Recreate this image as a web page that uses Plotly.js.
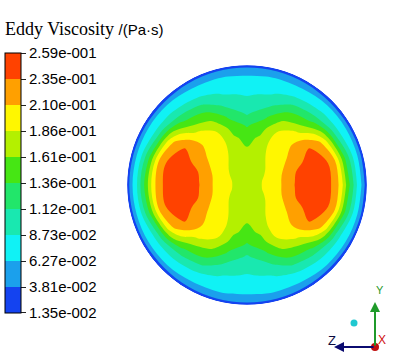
<!DOCTYPE html>
<html><head><meta charset="utf-8">
<script src="https://cdn.plot.ly/plotly-3.0.1.min.js"></script>
<style>html,body{margin:0;padding:0;background:#fff;}#chart{width:396px;height:354px;}</style>
</head><body><div id="chart"></div>
<script>
// radial stations (fraction of pipe radius) and angular stations (deg, CCW from +x)
const radii = [0, 0.1, 0.2, 0.3, 0.4, 0.5, 0.6, 0.7, 0.76, 0.8, 0.84, 0.88, 0.92, 0.95, 0.98, 1.0];
const angles = [0,15,30,45,60,75,90,105,120,135,150,165,180,195,210,225,240,255,270,285,300,315,330,345,360];

// eddy viscosity (Pa·s) read along rays, named by angle from the horizontal axis
const p0  = [0.1755,0.1827,0.1952,0.2124,0.2354,0.2462,0.2462,0.2354,0.2128,0.1854,0.1498,0.1203,0.0854,0.0675,0.0410,0.0160];
const p15 = [0.1755,0.1822,0.1935,0.2104,0.2322,0.2433,0.2450,0.2350,0.2133,0.1792,0.1421,0.1132,0.0818,0.0653,0.0398,0.0160];
const p30 = [0.1755,0.1809,0.1881,0.2018,0.2143,0.2256,0.2369,0.2160,0.1812,0.1471,0.1161,0.0903,0.0739,0.0626,0.0381,0.0160];
const p45 = [0.1755,0.1800,0.1844,0.1912,0.1986,0.2060,0.1915,0.1566,0.1321,0.1154,0.0987,0.0835,0.0709,0.0601,0.0361,0.0160];
const p60 = [0.1755,0.1787,0.1817,0.1849,0.1910,0.1883,0.1662,0.1363,0.1151,0.1011,0.0872,0.0763,0.0653,0.0528,0.0381,0.0160];
const p75 = [0.1755,0.1765,0.1775,0.1738,0.1652,0.1515,0.1301,0.1036,0.0913,0.0837,0.0771,0.0702,0.0633,0.0518,0.0390,0.0160];
const p90 = [0.1755,0.1714,0.1672,0.1630,0.1520,0.1333,0.1080,0.0933,0.0847,0.0790,0.0734,0.0678,0.0614,0.0503,0.0393,0.0160];
const rayOrder = ['p0','p15','p30','p45','p60','p75','p90','p75','p60','p45','p30','p15','p0','p15','p30','p45','p60','p75','p90','p75','p60','p45','p30','p15','p0'];

// legend levels
const levelValues = [0.0135,0.03808,0.06266,0.08724,0.11182,0.1364,0.16098,0.18556,0.21014,0.23472,0.2593];
const levelLabels = ['1.35e-002','3.81e-002','6.27e-002','8.73e-002','1.12e-001','1.36e-001','1.61e-001','1.86e-001','2.10e-001','2.35e-001','2.59e-001'];
const bandColors = ['#1443F0','#1BA0EC','#10F2F5','#19E8B0','#22E66A','#46E614','#B4F000','#FFF700','#FFA000','#FF4200'];

const profiles = {p0,p15,p30,p45,p60,p75,p90};
const Z = rayOrder.map(k => profiles[k]);
const X = angles.map(t => radii.map(r => r*Math.cos(t*Math.PI/180)));
const Y = angles.map(t => radii.map(r => r*Math.sin(t*Math.PI/180)));

const n = bandColors.length;
const zLo = levelValues[0], zHi = levelValues[n];
const colorscale = [];
bandColors.forEach((c,i) => { colorscale.push([i/n, c]); colorscale.push([(i+1)/n, c]); });
const tickPos = levelValues.map((v,i) => i === 0 ? v + 1e-5 : (i === n ? v - 1e-5 : v));

const hiddenAx = {showgrid:false, showline:false, showticklabels:'none', startline:false, endline:false,
  gridcolor:'rgba(0,0,0,0)', linecolor:'rgba(0,0,0,0)', minorgridcount:0, smoothing:1};

const traces = [
  {type:'carpet', carpet:'pipe', a: radii, b: angles, x: X, y: Y, aaxis: hiddenAx, baxis: hiddenAx, hoverinfo:'skip'},
  {type:'contourcarpet', carpet:'pipe', a: radii, b: angles, z: Z,
   autocontour:false,
   contours:{start: zLo, end: zHi, size:(zHi-zLo)/n, coloring:'fill', showlines:false},
   line:{width:0},
   colorscale: colorscale, zauto:false, zmin: zLo, zmax: zHi,
   colorbar:{xref:'paper', yref:'paper', x:(5-126)/242, xanchor:'left', xpad:0, ypad:0,
     y:(306-53)/242, yanchor:'top', len:260, lenmode:'pixels', thickness:16,
     outlinecolor:'#000', outlinewidth:1,
     tickmode:'array', tickvals: tickPos, ticktext: levelLabels,
     ticks:'outside', ticklen:5, tickwidth:1, tickcolor:'#222',
     tickfont:{family:'Liberation Sans, Arial, sans-serif', size:15, color:'#000'}}
  }
];

const px = v => (v-126)/242, py = v => (306-v)/242;
const lab = (x, y, t, size, color) => ({xref:'paper', yref:'paper', x:px(x), y:py(y), xanchor:'center', yanchor:'middle',
  text:t, showarrow:false, font:{family:'Liberation Sans, Arial', size:size, color:color}});
const layout = {
  width:396, height:354,
  margin:{l:126, r:28, t:64, b:48, autoexpand:false},
  paper_bgcolor:'#fff', plot_bgcolor:'#fff', showlegend:false,
  xaxis:{range:[-1.01,1.01], visible:false, fixedrange:true},
  yaxis:{range:[-1.01,1.01], visible:false, fixedrange:true},
  title:{text:'Eddy Viscosity <span style="font-family:\'Liberation Sans\',Arial,sans-serif;font-size:15px">/(Pa·s)</span>',
    font:{family:'Liberation Serif, Times New Roman, serif', size:18, color:'#000'},
    xref:'container', yref:'container', x:5/396, xanchor:'left', y:1-29/354, yanchor:'middle'},
  annotations:[
    {xref:'paper', yref:'paper', x:px(375), y:py(302), ax:0, ay:45, text:'', showarrow:true, arrowcolor:'#1f9a2a', arrowwidth:2, arrowhead:2, arrowsize:1, standoff:0},
    {xref:'paper', yref:'paper', x:px(334), y:py(347), ax:41, ay:0, text:'', showarrow:true, arrowcolor:'#0b0b70', arrowwidth:2, arrowhead:2, arrowsize:1, standoff:0},
    lab(380, 290, 'Y', 11, '#2a9a2a'),
    lab(332, 340, 'Z', 13, '#0b0b40'),
    lab(382, 340, 'X', 12, '#d01010')
  ],
  shapes:[
    {type:'circle', xref:'paper', yref:'paper', xsizemode:'pixel', ysizemode:'pixel', xanchor:px(375), yanchor:py(347), x0:-4, x1:4, y0:-4, y1:4, fillcolor:'#c01010', line:{width:0}},
    {type:'circle', xref:'paper', yref:'paper', xsizemode:'pixel', ysizemode:'pixel', xanchor:px(354), yanchor:py(323), x0:-3.5, x1:3.5, y0:-3.5, y1:3.5, fillcolor:'#20c8d0', line:{width:0}}
  ]
};
Plotly.newPlot('chart', traces, layout, {displayModeBar:false, staticPlot:true});
</script></body></html>
